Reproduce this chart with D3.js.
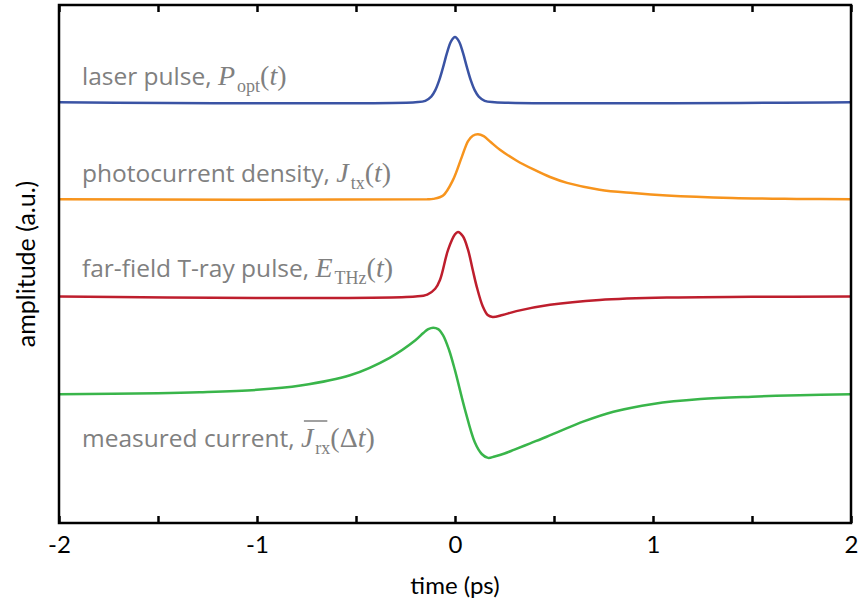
<!DOCTYPE html>
<html>
<head>
<meta charset="utf-8">
<script src="https://cdn.jsdelivr.net/npm/d3@7"></script>
<style>
  body { margin: 0; background: #fff; }
  svg text { font-family: "Open Sans", "DejaVu Sans", sans-serif; }
</style>
</head>
<body>
<div id="chart"></div>
<script>
// time samples (ps) and amplitude offsets (a.u.)
const laserT = [-2, -0.2, -0.15, -0.12, -0.1, -0.08, -0.06, -0.04, -0.02, 0, 0.02, 0.04, 0.06, 0.08, 0.1, 0.12, 0.15, 0.2, 2]
const laserY = [0, 0, 0.014, 0.057, 0.121, 0.224, 0.361, 0.509, 0.626, 0.67, 0.626, 0.509, 0.361, 0.224, 0.121, 0.057, 0.014, 0, 0]

const photoT = [-2, -0.14, -0.11, -0.06, -0.01, 0.035, 0.066, 0.09, 0.116, 0.145, 0.18, 0.227, 0.31, 0.394, 0.48, 0.566, 0.73, 0.9, 1.07, 1.4, 1.74, 2]
const photoY = [0, 0, 0.005, 0.04, 0.2, 0.44, 0.6, 0.655, 0.67, 0.65, 0.59, 0.51, 0.4, 0.31, 0.23, 0.17, 0.1, 0.065, 0.04, 0.015, 0.005, 0]

const thzT = [-2, -0.2, -0.14, -0.1, -0.076, -0.035, 0, 0.015, 0.04, 0.066, 0.09, 0.11, 0.14, 0.165, 0.19, 0.24, 0.31, 0.48, 0.73, 1.07, 1.5, 2]
const thzY = [0, 0, 0.02, 0.08, 0.17, 0.48, 0.64, 0.665, 0.62, 0.48, 0.27, 0.1, -0.1, -0.19, -0.21, -0.19, -0.15, -0.085, -0.035, -0.01, -0.003, 0]

const measT = [-2, -1.5, -1.29, -1.0, -0.78, -0.53, -0.33, -0.2, -0.16, -0.135, -0.11, -0.085, -0.06, -0.03, 0, 0.05, 0.1, 0.135, 0.167, 0.2, 0.25, 0.3, 0.38, 0.46, 0.53, 0.65, 0.8, 1.0, 1.24, 1.5, 1.74, 2]
const measY = [-0.005, 0.005, 0.015, 0.04, 0.085, 0.19, 0.37, 0.55, 0.625, 0.665, 0.68, 0.665, 0.6, 0.45, 0.24, -0.16, -0.5, -0.62, -0.66, -0.645, -0.615, -0.575, -0.51, -0.445, -0.385, -0.285, -0.185, -0.105, -0.055, -0.03, -0.015, -0.005]

const series = [
  { name: 'laser', t: laserT, y: laserY, base: 4, color: '#3a53a4' },
  { name: 'photo', t: photoT, y: photoY, base: 3, color: '#f7941d' },
  { name: 'thz', t: thzT, y: thzY, base: 2, color: '#be1e2d' },
  { name: 'meas', t: measT, y: measY, base: 1, color: '#39b54a' }
]

const xTicks = [-2, -1.5, -1, -0.5, 0, 0.5, 1, 1.5, 2]

const width = 858
const height = 607
const margin = { top: 5, right: 7, bottom: 84, left: 59 }

const svg = d3.select('#chart').append('svg').attr('width', width).attr('height', height)

const x = d3.scaleLinear().domain([-2, 2]).range([margin.left, width - margin.right])
const y = d3.scaleLinear().domain([-0.33, 5.0]).range([height - margin.bottom, margin.top])

const line = d3.line().curve(d3.curveCatmullRom.alpha(0.5))

// Curves
series.forEach(s => {
  const pts = s.t.map((t, i) => [x(t), y(s.base + s.y[i])])
  svg.append('path')
    .attr('d', line(pts))
    .attr('fill', 'none')
    .attr('stroke', s.color)
    .attr('stroke-width', 2.5)
})

// Frame
svg.append('rect')
  .attr('x', x(-2))
  .attr('y', y(5.0))
  .attr('width', x(2) - x(-2))
  .attr('height', y(-0.33) - y(5.0))
  .attr('fill', 'none')
  .attr('stroke', 'black')
  .attr('stroke-width', 2.5)

// Ticks (bottom and top, pointing inward)
const bottomAxis = d3.axisBottom(x).tickValues(xTicks).tickSizeInner(-7).tickSizeOuter(0)
  .tickFormat(d => Number.isInteger(d) ? d : '')
const gx = svg.append('g').attr('transform', `translate(0,${y(-0.33)})`).call(bottomAxis)
gx.select('.domain').remove()
gx.selectAll('line').attr('stroke-width', 2.5)
gx.selectAll('text').attr('font-size', 24).attr('fill', 'black').attr('y', 13).attr('dy', '0.71em')
  .style('font-family', 'Lato, sans-serif')

const topAxis = d3.axisTop(x).tickValues(xTicks).tickSizeInner(-7).tickSizeOuter(0).tickFormat('')
const gt = svg.append('g').attr('transform', `translate(0,${y(5.0)})`).call(topAxis)
gt.select('.domain').remove()
gt.selectAll('line').attr('stroke-width', 2.5)

// Axis titles
svg.append('text')
  .attr('x', x(0))
  .attr('y', 594)
  .attr('text-anchor', 'middle')
  .attr('font-size', 24)
  .style('font-family', 'Lato, sans-serif')
  .text('time (ps)')

svg.append('text')
  .attr('transform', `translate(35,${(y(5.0) + y(-0.33)) / 2}) rotate(-90)`)
  .attr('text-anchor', 'middle')
  .attr('font-size', 25)
  .style('font-family', 'Lato, sans-serif')
  .text('amplitude (a.u.)')

// Curve labels
const labels = [
  { text: 'laser pulse, ', sym: 'P', sub: 'opt', arg: 't', yb: 85 },
  { text: 'photocurrent density, ', sym: 'J', sub: 'tx', arg: 't', yb: 182 },
  { text: 'far-field T-ray pulse, ', sym: 'E', sub: 'THz', arg: 't', yb: 277 },
  { text: 'measured current, ', sym: 'J', sub: 'rx', arg: 'Δt', yb: 447, bar: true }
]

const serif = '"Liberation Serif", serif'

labels.forEach(l => {
  const t = svg.append('text')
    .attr('x', 82)
    .attr('y', l.yb)
    .attr('font-size', 24.5)
    .attr('fill', '#808080')
  t.append('tspan').text(l.text)
  const sym = t.append('tspan')
    .style('font-family', serif)
    .attr('font-style', 'italic')
    .attr('font-size', 28)
    .text(l.sym)
  const sub = t.append('tspan')
    .style('font-family', serif)
    .attr('font-size', 18)
    .attr('dx', 2)
    .attr('dy', 7)
    .text(l.sub)
  t.append('tspan')
    .style('font-family', serif)
    .attr('font-size', 28)
    .attr('dy', -7)
    .text('(')
  if (l.arg === 'Δt') {
    t.append('tspan').style('font-family', serif).attr('font-size', 28).text('Δ')
    t.append('tspan').style('font-family', serif).attr('font-size', 28).attr('font-style', 'italic').text('t')
  } else {
    t.append('tspan').style('font-family', serif).attr('font-size', 28).attr('font-style', 'italic').text(l.arg)
  }
  t.append('tspan').style('font-family', serif).attr('font-size', 28).text(')')

  if (l.bar) {
    const x0 = sym.node().getStartPositionOfChar(0).x + 3
    const x1 = sub.node().getEndPositionOfChar(l.sub.length - 1).x - 3
    svg.append('line')
      .attr('x1', x0).attr('x2', x1)
      .attr('y1', l.yb - 26).attr('y2', l.yb - 26)
      .attr('stroke', '#808080')
      .attr('stroke-width', 1.5)
  }
})
</script>
</body>
</html>
